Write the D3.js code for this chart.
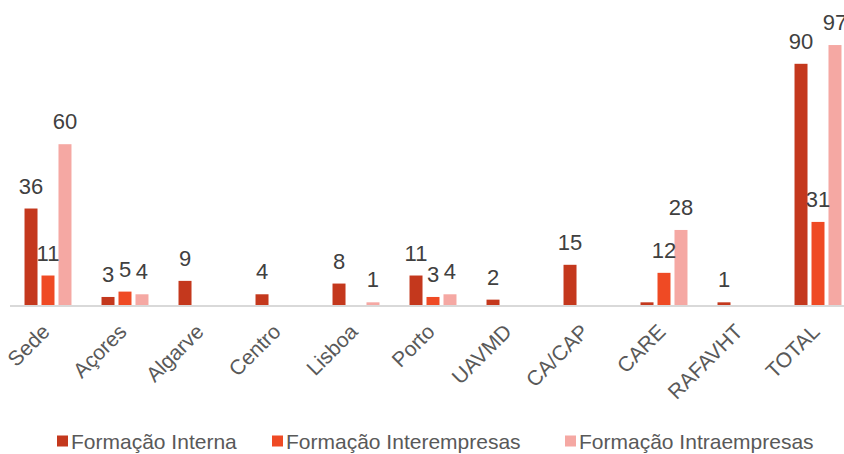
<!DOCTYPE html>
<html><head><meta charset="utf-8">
<script src="https://cdn.jsdelivr.net/npm/d3@7"></script>
<style>body{margin:0;background:#fff}svg{display:block;font-family:"Liberation Sans",Arial,sans-serif}</style>
</head><body><svg id="c" width="844" height="454"></svg>
<script>
const categories = ["Sede","Açores","Algarve","Centro","Lisboa","Porto","UAVMD","CA/CAP","CARE","RAFAVHT","TOTAL"];
const seriesNames = ["Formação Interna","Formação Interempresas","Formação Intraempresas"];
const interna      = [36,3,9,4,8,11,2,15,1,1,90];
const interempresas= [11,5,0,0,0,3,0,0,12,0,31];
const intraempresas= [60,4,0,0,1,4,0,0,28,0,97];
const hiddenLabels = [["CARE","Formação Interna"]];
const colors = ["#C4381D","#EF4A24","#F5A8A3"];

const seriesValues = [interna, interempresas, intraempresas];
const svg = d3.select("#c");
const x0 = d3.scaleBand().domain(categories).range([9.5, 856.5]).paddingInner(0.39).paddingOuter(0.195);
const x1 = d3.scaleBand().domain(seriesNames).range([0, x0.bandwidth()]).paddingInner(0.235);
const y = d3.scaleLinear().domain([0,100]).range([305,37]);

const data = [];
categories.forEach((c,i)=>seriesNames.forEach((s,j)=>{
  data.push({c, s, j, v: seriesValues[j][i]});
}));
const isHidden = d => hiddenLabels.some(h=>h[0]===d.c && h[1]===d.s);

// axis line
svg.append("line").attr("x1",10).attr("x2",844).attr("y1",y(0)+1).attr("y2",y(0)+1)
  .attr("stroke","#D9D9D9").attr("stroke-width",2);

const bars = data.filter(d=>d.v>0);
svg.append("g").selectAll("rect").data(bars).join("rect")
  .attr("x",d=>x0(d.c)+x1(d.s)).attr("width",x1.bandwidth())
  .attr("y",d=>y(d.v)).attr("height",d=>y(0)-y(d.v))
  .attr("fill",d=>colors[d.j]);

svg.append("g").selectAll("text").data(bars.filter(d=>!isHidden(d))).join("text")
  .attr("x",d=>x0(d.c)+x1(d.s)+x1.bandwidth()/2)
  .attr("y",d=>y(d.v)-15)
  .attr("text-anchor","middle").attr("font-size",22).attr("fill","#404040")
  .text(d=>d.v);

// category labels
svg.append("g").selectAll("text").data(categories).join("text")
  .attr("transform",d=>`translate(${x0(d)+x0.bandwidth()/2+3},${333}) rotate(-45)`)
  .attr("text-anchor","end").attr("font-size",21).attr("fill","#595959")
  .text(d=>d);

// legend
const legX = [57, 272, 565];
const lg = svg.append("g").selectAll("g").data(seriesNames).join("g")
  .attr("transform",(d,i)=>`translate(${legX[i]},441)`);
lg.append("rect").attr("x",0).attr("y",-5.5).attr("width",11).attr("height",11).attr("fill",(d,i)=>colors[i]);
lg.append("text").attr("x",14).attr("y",7.5).attr("font-size",21).attr("fill","#595959").text(d=>d);
</script></body></html>
